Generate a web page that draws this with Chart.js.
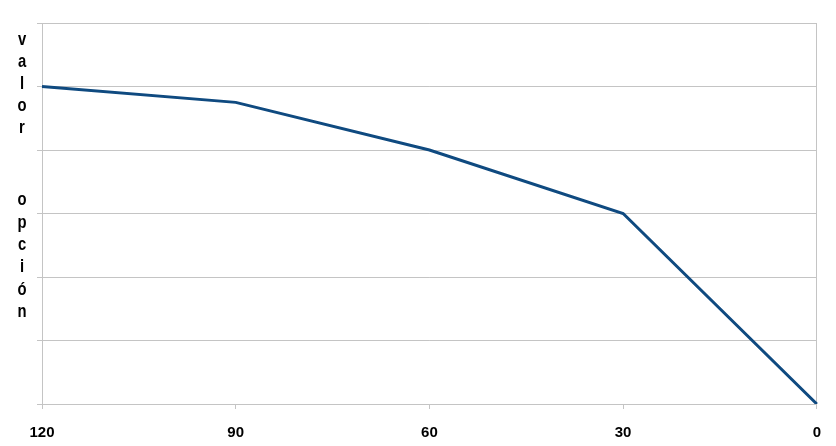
<!DOCTYPE html>
<html>
<head>
<meta charset="utf-8">
<script src="https://cdn.jsdelivr.net/npm/chart.js@4/dist/chart.umd.min.js"></script>
<style>
  html, body { margin: 0; padding: 0; background: #ffffff; }
  #wrap { position: relative; width: 836px; height: 446px; }
</style>
</head>
<body>
<div id="wrap"><canvas id="chart"></canvas></div>
<script>
// chart data
const dias = ['120', '90', '60', '30', '0'];
const valorOpcion = [5, 4.75, 4, 3, 0];
const yMin = 0;
const yMax = 6;
const yStep = 1;
const tituloY = ['valor', 'opción'];

const gridColor = '#c4c4c4';
const labelFont = "'Liberation Sans Narrow', 'Arial Narrow', 'Liberation Sans', sans-serif";

// draws the y axis title as stacked letters, one word after the other
const verticalTitle = {
    id: 'verticalTitle',
    afterDraw(chart) {
        const ctx = chart.ctx;
        const starts = [40, 200];
        const steps = [22, 22.4];
        ctx.save();
        ctx.fillStyle = '#000000';
        ctx.font = 'bold 19px ' + labelFont;
        ctx.textAlign = 'center';
        ctx.textBaseline = 'middle';
        ctx.scale(0.78, 1);
        tituloY.forEach(function(word, w) {
            Array.from(word).forEach(function(ch, i) {
                ctx.fillText(ch, 22 / 0.78, starts[w] + i * steps[w]);
            });
        });
        ctx.restore();
    }
};

new Chart(document.getElementById('chart'), {
    type: 'line',
    data: {
        labels: dias,
        datasets: [{
            label: 'valor opción',
            data: valorOpcion,
            borderColor: '#0f4a80',
            borderWidth: 3,
            pointRadius: 0,
            tension: 0,
            fill: false
        }]
    },
    options: {
        responsive: true,
        maintainAspectRatio: false,
        animation: false,
        layout: { padding: { top: 23, right: 18, left: 0, bottom: 0 } },
        plugins: {
            legend: { display: false },
            tooltip: { enabled: false }
        },
        scales: {
            x: {
                offset: false,
                grid: {
                    drawOnChartArea: true,
                    color: function(c) { return c.index === dias.length - 1 ? gridColor : 'transparent'; },
                    tickColor: gridColor,
                    tickLength: 5
                },
                border: { color: gridColor },
                ticks: {
                    color: '#000000',
                    maxRotation: 0,
                    autoSkip: false,
                    padding: 15,
                    font: { family: labelFont, size: 15, weight: 'bold' }
                },
                afterFit: function(scale) { scale.height = 42; }
            },
            y: {
                min: yMin,
                max: yMax,
                grid: {
                    color: gridColor,
                    tickColor: gridColor,
                    tickLength: 5
                },
                border: { color: gridColor },
                ticks: {
                    stepSize: yStep,
                    display: false
                },
                afterFit: function(scale) { scale.width = 42; }
            }
        }
    },
    plugins: [verticalTitle]
});
</script>
</body>
</html>
